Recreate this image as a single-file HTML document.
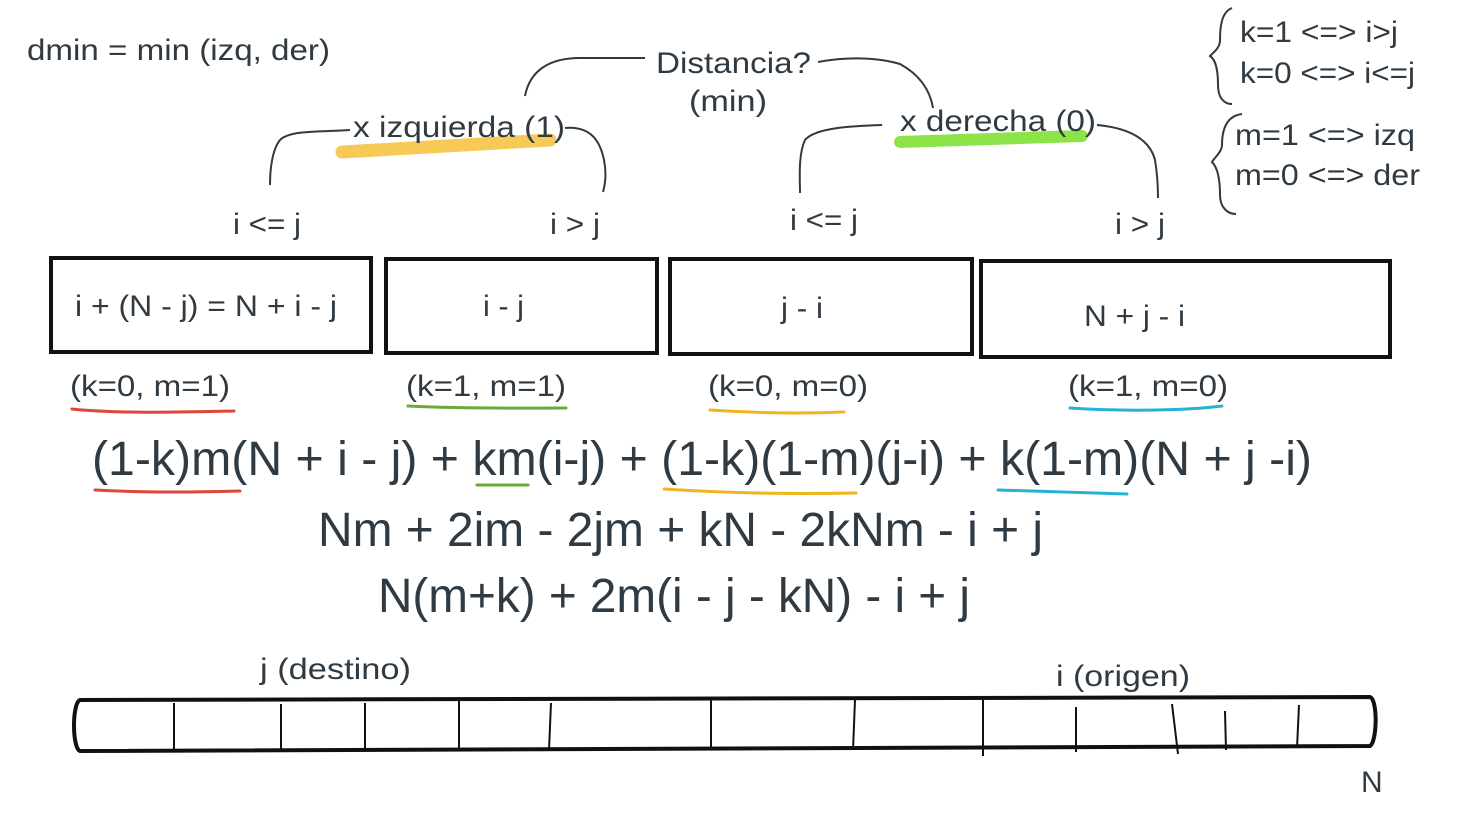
<!DOCTYPE html>
<html><head><meta charset="utf-8"><style>
html,body{margin:0;padding:0;background:#fff;}
svg{display:block;}
text{font-family:"Liberation Sans",sans-serif;fill:#2f3a42;}
</style></head><body>
<svg width="1471" height="824" viewBox="0 0 1471 824" xmlns="http://www.w3.org/2000/svg">
<g fill="none" stroke="#2f3a42" stroke-width="2">
<path d="M525 96 C530 70 550 58 580 58 L645 58"/>
<path d="M818 62 C850 56 880 58 900 64 C920 75 930 90 933 108"/>
<path d="M350 130 C320 132 290 130 280 140 C272 150 270 170 270 185"/>
<path d="M565 128 C590 126 600 140 604 160 C607 175 605 185 603 192"/>
<path d="M882 125 C850 126 815 128 805 140 C798 155 800 180 800 193"/>
<path d="M1097 125 C1130 128 1150 140 1155 160 C1158 178 1158 190 1158 198"/>
<path d="M1232 8 C1222 12 1220 25 1220 40 C1220 48 1214 52 1210 56 C1216 60 1218 70 1218 85 C1218 98 1224 104 1232 104"/>
<path d="M1242 114 C1226 116 1222 130 1222 145 C1222 152 1214 158 1212 162 C1218 168 1220 180 1220 195 C1220 208 1228 214 1236 214"/>
</g>
<path d="M342 152 L550 140" stroke="#f5b820" stroke-width="13" stroke-linecap="round" opacity="0.75"/>
<path d="M900 142 L1082 136" stroke="#7ae02a" stroke-width="12" stroke-linecap="round" opacity="0.85"/>

<text x="27" y="60" font-size="30" textLength="303" lengthAdjust="spacingAndGlyphs">dmin = min (izq, der)</text>
<text x="656" y="73" font-size="30" textLength="155" lengthAdjust="spacingAndGlyphs">Distancia?</text>
<text x="689" y="111" font-size="30" textLength="78" lengthAdjust="spacingAndGlyphs">(min)</text>
<text x="353" y="137" font-size="30" textLength="212" lengthAdjust="spacingAndGlyphs">x izquierda (1)</text>
<text x="900" y="131" font-size="30" textLength="196" lengthAdjust="spacingAndGlyphs">x derecha (0)</text>
<text x="1240" y="42" font-size="30" textLength="158" lengthAdjust="spacingAndGlyphs">k=1 &lt;=&gt; i&gt;j</text>
<text x="1240" y="83" font-size="30" textLength="175" lengthAdjust="spacingAndGlyphs">k=0 &lt;=&gt; i&lt;=j</text>
<text x="1235" y="145" font-size="30" textLength="180" lengthAdjust="spacingAndGlyphs">m=1 &lt;=&gt; izq</text>
<text x="1235" y="185" font-size="30" textLength="185" lengthAdjust="spacingAndGlyphs">m=0 &lt;=&gt; der</text>

<text x="233" y="234" font-size="30" textLength="68" lengthAdjust="spacingAndGlyphs">i &lt;= j</text>
<text x="550" y="234" font-size="30" textLength="50" lengthAdjust="spacingAndGlyphs">i &gt; j</text>
<text x="790" y="230" font-size="30" textLength="68" lengthAdjust="spacingAndGlyphs">i &lt;= j</text>
<text x="1115" y="234" font-size="30" textLength="50" lengthAdjust="spacingAndGlyphs">i &gt; j</text>

<g fill="none" stroke="#111" stroke-width="4">
<rect x="51" y="258" width="320" height="94"/>
<rect x="386" y="259" width="271" height="94"/>
<rect x="670" y="259" width="302" height="95"/>
<rect x="981" y="261" width="409" height="96"/>
</g>
<text x="75" y="316" font-size="30" textLength="262" lengthAdjust="spacingAndGlyphs">i + (N - j) = N + i - j</text>
<text x="483" y="316" font-size="30" textLength="41" lengthAdjust="spacingAndGlyphs">i - j</text>
<text x="781" y="318" font-size="30" textLength="42" lengthAdjust="spacingAndGlyphs">j - i</text>
<text x="1084" y="326" font-size="30" textLength="101" lengthAdjust="spacingAndGlyphs">N + j - i</text>

<text x="70" y="396" font-size="30" textLength="160" lengthAdjust="spacingAndGlyphs">(k=0, m=1)</text>
<text x="406" y="396" font-size="30" textLength="160" lengthAdjust="spacingAndGlyphs">(k=1, m=1)</text>
<text x="708" y="396" font-size="30" textLength="160" lengthAdjust="spacingAndGlyphs">(k=0, m=0)</text>
<text x="1068" y="396" font-size="30" textLength="160" lengthAdjust="spacingAndGlyphs">(k=1, m=0)</text>
<g fill="none" stroke-width="3" stroke-linecap="round">
<path d="M72 409 C120 414 190 412 234 411" stroke="#e0463c"/>
<path d="M408 406 C470 409 530 408 566 408" stroke="#6aaa3a"/>
<path d="M710 410 C770 414 820 413 844 412" stroke="#f2b51e"/>
<path d="M1070 408 C1130 412 1190 410 1222 406" stroke="#27b3d4"/>
<path d="M95 490 C150 493 200 492 240 491" stroke="#e0463c"/>
<path d="M477 485 L528 485" stroke="#6aaa3a"/>
<path d="M664 489 C740 494 810 494 856 493" stroke="#f2b51e"/>
<path d="M998 490 C1050 492 1100 493 1127 494" stroke="#27b3d4"/>
</g>

<text x="92" y="475" font-size="48" textLength="1220" lengthAdjust="spacingAndGlyphs">(1-k)m(N + i - j) + km(i-j) + (1-k)(1-m)(j-i) + k(1-m)(N + j -i)</text>
<text x="318" y="546" font-size="48" textLength="725" lengthAdjust="spacingAndGlyphs">Nm + 2im - 2jm + kN - 2kNm - i + j</text>
<text x="378" y="612" font-size="48" textLength="592" lengthAdjust="spacingAndGlyphs">N(m+k) + 2m(i - j - kN) - i + j</text>

<text x="260" y="679" font-size="30" textLength="151" lengthAdjust="spacingAndGlyphs">j (destino)</text>
<text x="1056" y="686" font-size="30" textLength="134" lengthAdjust="spacingAndGlyphs">i (origen)</text>
<path d="M80 700 L1370 697 C1378 700 1377 742 1370 746 L80 751 C72 748 72 703 80 700 Z" fill="none" stroke="#111" stroke-width="4"/>
<g stroke="#111" stroke-width="2">
<line x1="174" y1="703" x2="174" y2="752"/><line x1="281" y1="704" x2="281" y2="751"/>
<line x1="365" y1="703" x2="365" y2="751"/><line x1="459" y1="697" x2="459" y2="751"/>
<line x1="551" y1="703" x2="549" y2="750"/><line x1="711" y1="697" x2="711" y2="750"/>
<line x1="855" y1="700" x2="853" y2="750"/><line x1="983" y1="697" x2="983" y2="756"/>
<line x1="1076" y1="707" x2="1076" y2="752"/><line x1="1172" y1="704" x2="1178" y2="754"/>
<line x1="1225" y1="711" x2="1226" y2="750"/><line x1="1299" y1="705" x2="1297" y2="748"/>
</g>
<text x="1361" y="792" font-size="30">N</text>
</svg>
</body></html>
